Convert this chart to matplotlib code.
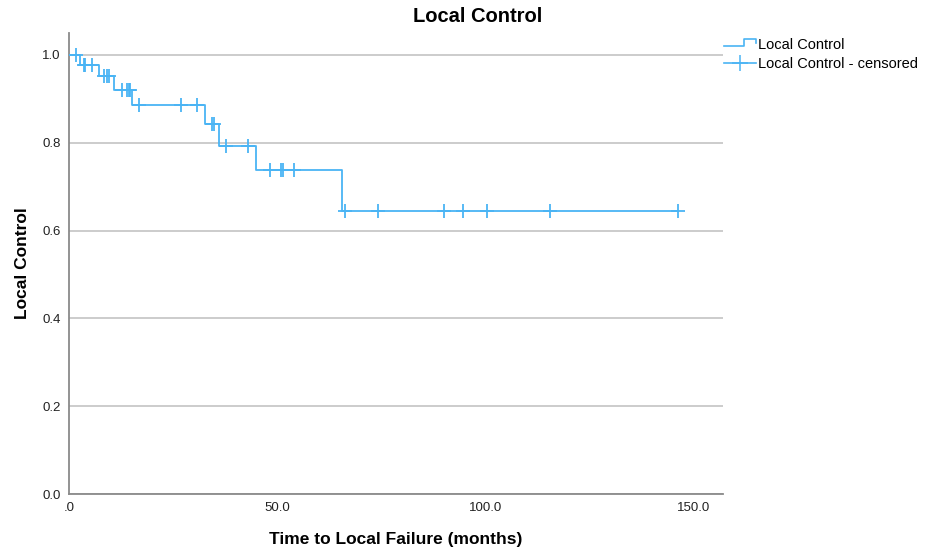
import numpy as np
import matplotlib
matplotlib.use("Agg")
import matplotlib.pyplot as plt
from matplotlib.lines import Line2D
from matplotlib.legend_handler import HandlerBase

plt.rcParams['font.family'] = ['Liberation Sans', 'DejaVu Sans']

# Kaplan-Meier steps: time of each drop and survival after it
step_times = [0.0, 2.6, 7.3, 10.8, 15.1, 32.6, 36.0, 44.8, 65.5]
step_surv = [1.0, 0.977, 0.952, 0.920, 0.885, 0.843, 0.793, 0.738, 0.645]
# censored observations (months)
censor_times = [1.7, 3.6, 3.9, 5.6, 8.3, 9.0, 9.5, 12.8, 13.9, 14.3, 14.6, 16.8,
                26.8, 30.8, 34.3, 34.7, 37.6, 43.1, 48.3, 51.0, 51.3, 54.0,
                66.3, 74.2, 90.0, 94.6, 100.3, 115.6, 146.2]

x_ticks = [0, 50, 100, 150]
x_ticklabels = ['.0', '50.0', '100.0', '150.0']
y_ticks = [0.0, 0.2, 0.4, 0.6, 0.8, 1.0]

blue = '#4AB4F4'

fig = plt.figure(figsize=(9.29, 5.54), dpi=100)
ax = fig.add_axes([0.0743, 0.1083, 0.7037, 0.8321])

# step curve through the last censored time
t = np.array(step_times + [max(censor_times)])
s = np.array(step_surv + [step_surv[-1]])
ax.step(t, s, where='post', color=blue, lw=1.3, zorder=3)

idx = np.searchsorted(step_times, censor_times, side='right') - 1
cy = np.array(step_surv)[idx]
ax.plot(censor_times, cy, ls='none', marker='+', ms=10, mew=1.3, color=blue, zorder=4)

ax.set_xlim(0, 157)
ax.set_ylim(0, 1.05)
ax.set_xticks(x_ticks)
ax.set_xticklabels(x_ticklabels)
ax.set_yticks(y_ticks)
ax.set_yticklabels([f'{v:.1f}' for v in y_ticks])
ax.tick_params(length=0, labelsize=9.5, colors='#222222', pad=6)
ax.yaxis.grid(True, color='#c8c8c8', lw=1.3)
ax.set_axisbelow(True)
for side in ['top', 'right']:
    ax.spines[side].set_visible(False)
for side in ['left', 'bottom']:
    ax.spines[side].set_color('#8a8a8a')
    ax.spines[side].set_linewidth(1.3)

ax.set_xlabel('Time to Local Failure (months)', fontsize=12.5, fontweight='bold', labelpad=13)
ax.set_ylabel('Local Control', fontsize=12.5, fontweight='bold', labelpad=9)
fig.text(478 / 929, 1 - 17 / 554, 'Local Control', ha='center', va='center',
         fontsize=14.5, fontweight='bold')


class StepHandler(HandlerBase):
    def create_artists(self, legend, orig_handle, xdescent, ydescent, width, height, fontsize, trans):
        x0, x1 = -xdescent, -xdescent + width
        xm = x0 + width * 0.62
        ylo, yhi = -ydescent + height * 0.25, -ydescent + height * 1.0
        ln = Line2D([x0, xm, xm, x1, x1], [ylo, ylo, yhi, yhi, -ydescent + height * 0.55],
                    color=blue, lw=1.2, transform=trans)
        return [ln]


step_handle = Line2D([], [], color=blue)
cens_handle = Line2D([], [], color=blue, marker='+', ms=11, mew=1.1, lw=1.2)
fig.legend([step_handle, cens_handle], ['Local Control', 'Local Control - censored'],
           handler_map={step_handle: StepHandler()},
           loc='upper left', bbox_to_anchor=(724 / 929, 1 - 38 / 554), frameon=False,
           fontsize=10.5, handlelength=2.2, handletextpad=0.15, labelspacing=0.35,
           borderaxespad=0, borderpad=0)

fig.savefig('out.png', dpi=100)
